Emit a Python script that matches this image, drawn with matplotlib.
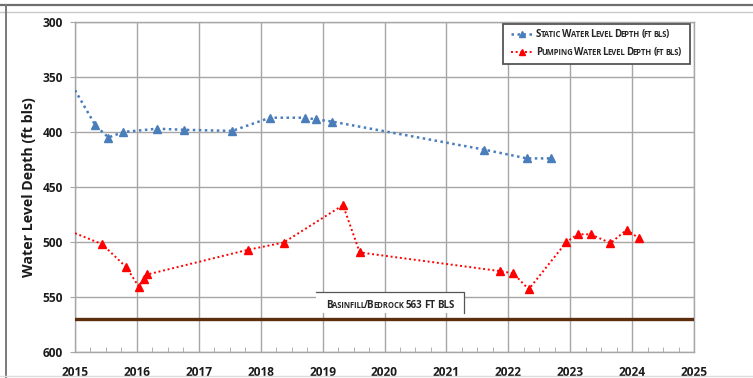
import matplotlib
matplotlib.use('Agg')
import matplotlib.pyplot as plt
from matplotlib.lines import Line2D
from matplotlib.patches import Rectangle
from matplotlib.ticker import MultipleLocator
from matplotlib.transforms import offset_copy, IdentityTransform

plt.rcParams['font.family'] = ['Open Sans', 'DejaVu Sans']

# static water level readings (decimal year, ft bls)
static_year = [2015.0, 2015.33, 2015.54, 2015.78, 2016.33, 2016.76, 2017.54, 2018.15,
               2018.71, 2018.89, 2019.15, 2021.61, 2022.30, 2022.69]
static_depth = [362, 394, 405, 400, 397, 398, 399, 387, 387, 388.5, 390.5, 416, 424, 424]

# pumping water level readings
pump_year = [2015.0, 2015.44, 2015.83, 2016.03, 2016.11, 2016.17, 2017.80, 2018.37, 2019.33,
             2019.60, 2021.87, 2022.08, 2022.33, 2022.94, 2023.12, 2023.33, 2023.65, 2023.91, 2024.11]
pump_depth = [492, 502, 523, 540.5, 533.5, 529.5, 507, 500.5, 466.5, 509.5, 526.5, 528.5, 543,
              500, 493, 493, 501, 489, 496.5]

bedrock_depth = 570
static_label = 'Static Water Level Depth (ft bls)'
pump_label = 'Pumping Water Level Depth (ft bls)'
bedrock_label = 'Basinfill/Bedrock 563 FT BLS'

BLUE = '#4a7ebb'
RED = '#ff0000'
GRID = '#a6a6a6'

fig = plt.figure(figsize=(7.53, 3.78), dpi=100)
ax = fig.add_axes([75 / 753, 1 - 352 / 378, 619 / 753, 330 / 378])


def small_caps(x, y, s, big, small, trans, color='#262626'):
    # matplotlib has no real small caps, so fake it run by run
    renderer = fig.canvas.get_renderer()
    runs = []
    for ch in s:
        kind = 'space' if ch == ' ' else ('small' if ch.islower() else 'big')
        if runs and runs[-1][1] == kind:
            runs[-1][0] += ch.upper()
        else:
            runs.append([ch.upper(), kind])
    dx = 0
    for run, kind in runs:
        if kind == 'space':
            dx += len(run) * 0.24 * big * fig.dpi / 72
            continue
        size = small if kind == 'small' else big
        t = fig.text(x, y, run, fontsize=size, fontweight='bold', color=color,
                     ha='left', va='baseline', zorder=10,
                     transform=offset_copy(trans, fig=fig, x=dx, y=0, units='dots'))
        dx += t.get_window_extent(renderer).width - 0.9
    return dx


ls = (0, (1, 1.4))
ax.plot(static_year, static_depth, color=BLUE, ls=ls, lw=1.8, marker='^', ms=5.6,
        markevery=list(range(1, len(static_year))), label=static_label.upper(), zorder=4)
ax.plot(pump_year, pump_depth, color=RED, ls=ls, lw=1.4, marker='^', ms=5.6,
        markevery=list(range(1, len(pump_year))), label=pump_label.upper(), zorder=4)
ax.axhline(bedrock_depth, color='#5c2e0e', lw=2.4, zorder=3)

ax.set_xlim(2015, 2025)
ax.set_ylim(600, 300)
ax.xaxis.set_major_locator(MultipleLocator(1))
ax.xaxis.set_minor_locator(MultipleLocator(0.25))
ax.yaxis.set_major_locator(MultipleLocator(50))
ax.grid(True, which='major', color=GRID, lw=1)
for sp in ax.spines.values():
    sp.set_color(GRID)
    sp.set_linewidth(1)
ax.tick_params(axis='x', which='major', length=0, pad=10, labelsize=8.6, colors='#1a1a1a')
ax.tick_params(axis='x', which='minor', direction='in', length=3.5, color=GRID)
ax.tick_params(axis='y', which='major', length=3.6, pad=5, labelsize=8.6, color=GRID,
               labelcolor='#1a1a1a')
for lab in ax.get_xticklabels() + ax.get_yticklabels():
    lab.set_fontweight('bold')
ax.set_ylabel('Water Level Depth (ft bls)', fontsize=10.2, fontweight='bold', color='#1a1a1a')
ax.yaxis.set_label_coords(-0.063, 0.5)

leg = ax.legend(loc='upper right', bbox_to_anchor=(0.994, 0.994), borderaxespad=0,
                fontsize=5.8, handlelength=2.9, handletextpad=0.25, labelspacing=1.25,
                borderpad=0.9, fancybox=False, framealpha=1, edgecolor='#555555',
                markerscale=0.8)
leg.get_frame().set_linewidth(1.3)
for t in leg.get_texts():
    t.set_alpha(0)

# bedrock label box
ax.add_patch(Rectangle((2018.9, 545.7), 2.38, 19.1, facecolor='white', edgecolor='none', zorder=5))
ax.plot([2018.9, 2021.28, 2021.28], [545.7, 545.7, 564.8], color='#555555', lw=0.9, zorder=6)

fig.canvas.draw()
renderer = fig.canvas.get_renderer()
for t, lab in zip(leg.get_texts(), [static_label, pump_label]):
    bb = t.get_window_extent(renderer)
    w, h, d = renderer.get_text_width_height_descent(t.get_text(), t.get_fontproperties(), ismath=False)
    small_caps(bb.x0, bb.y0 + d, lab, 7.0, 5.5, IdentityTransform())

small_caps(2019.06, 559.6, bedrock_label, 7.0, 5.5, ax.transData)

# outer frame around the picture
fig.add_artist(Line2D([0, 1], [1 - 5 / 378, 1 - 5 / 378], color='#6e6e6e', lw=1.6))
fig.add_artist(Line2D([0, 1], [1 - 12 / 378, 1 - 12 / 378], color='#c8c8c8', lw=1.0))
fig.add_artist(Line2D([6 / 753, 6 / 753], [0, 1 - 5 / 378], color='#7a7a7a', lw=1.4))
fig.add_artist(Line2D([0, 1], [2 / 378, 2 / 378], color='#dddddd', lw=1.0))

fig.savefig('out.png', dpi=100)
